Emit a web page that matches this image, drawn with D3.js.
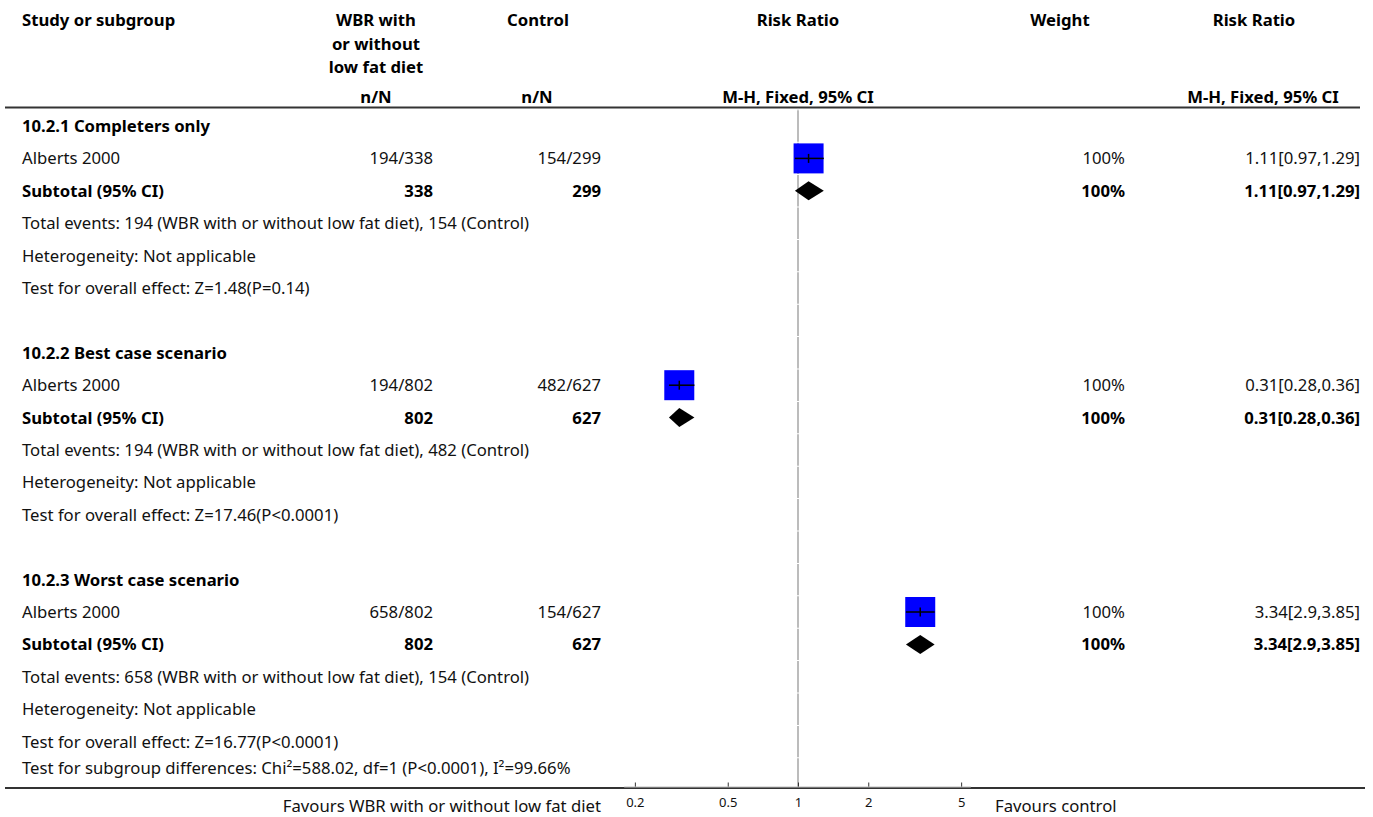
<!DOCTYPE html>
<html>
<head>
<meta charset="utf-8">
<script src="https://cdn.jsdelivr.net/npm/d3@7"></script>
<style>
  body { margin: 0; background: #fff; }
  svg text { font-family: "Noto Sans", "Open Sans", sans-serif; fill: #111; }
  .b { font-weight: bold; fill: #000; }
</style>
</head>
<body>
<svg id="chart" width="1373" height="817"></svg>
<script>
// ---- data --------------------------------------------------------------
const subgroupTitles = ["10.2.1 Completers only", "10.2.2 Best case scenario", "10.2.3 Worst case scenario"];
const studyNames     = ["Alberts 2000", "Alberts 2000", "Alberts 2000"];
const expEvents      = [194, 194, 658];
const expTotals      = [338, 802, 802];
const ctlEvents      = [154, 482, 154];
const ctlTotals      = [299, 627, 627];
const riskRatios     = [1.11, 0.31, 3.34];
const ciLower        = [0.97, 0.28, 2.9];
const ciUpper        = [1.29, 0.36, 3.85];
const weights        = [100, 100, 100];
const overallTests   = ["Z=1.48(P=0.14)", "Z=17.46(P<0.0001)", "Z=16.77(P<0.0001)"];
const heterogeneity  = ["Not applicable", "Not applicable", "Not applicable"];
const expLabel       = "WBR with or without low fat diet";
const ctlLabel       = "Control";
const subgroupDiff   = "Test for subgroup differences: Chi\u00B2=588.02, df=1 (P<0.0001), I\u00B2=99.66%";
const axisTicks      = [0.2, 0.5, 1, 2, 5];
const axisExtent     = [0.18, 5.5];

// ---- layout ------------------------------------------------------------
const FS = 16.7;
const colStudyX = 22, colExpRight = 433, colCtlRight = 601;
const colWeightRight = 1125, colRRRight = 1360;
const rowTop = 126, rowStep = 32.4;
const ruleTopY = 107.5, ruleBottomY = 788;

const svg = d3.select("#chart");

const x = d3.scaleLog().domain([0.1, 10]).range([564.6, 1031.4]);

function txt(xp, yp, s, opts = {}) {
  return svg.append("text")
    .attr("x", xp).attr("y", yp).attr("dy", "0.36em")
    .attr("text-anchor", opts.anchor || "start")
    .attr("class", opts.bold ? "b" : null)
    .style("font-size", (opts.size || FS) + "px")
    .text(s);
}
const fmt = v => String(+v.toFixed(2));
const rrText = i => fmt(riskRatios[i]) + "[" + fmt(ciLower[i]) + "," + fmt(ciUpper[i]) + "]";

// ---- header ------------------------------------------------------------
txt(colStudyX, 20, "Study or subgroup", { bold: true });
txt(376, 20, "WBR with", { bold: true, anchor: "middle" });
txt(376, 44, "or without", { bold: true, anchor: "middle" });
txt(376, 67, "low fat diet", { bold: true, anchor: "middle" });
txt(538, 20, ctlLabel, { bold: true, anchor: "middle" });
txt(x(1), 20, "Risk Ratio", { bold: true, anchor: "middle" });
txt(1060, 20, "Weight", { bold: true, anchor: "middle" });
txt(1254, 20, "Risk Ratio", { bold: true, anchor: "middle" });
txt(376, 97, "n/N", { bold: true, anchor: "middle" });
txt(537, 97, "n/N", { bold: true, anchor: "middle" });
txt(x(1), 97, "M-H, Fixed, 95% CI", { bold: true, anchor: "middle" });
txt(1263, 97, "M-H, Fixed, 95% CI", { bold: true, anchor: "middle" });

svg.append("line")
  .attr("x1", 5).attr("x2", 1360).attr("y1", ruleTopY).attr("y2", ruleTopY)
  .attr("stroke", "#333").attr("stroke-width", 2);

// ---- rows --------------------------------------------------------------
const rows = [];
subgroupTitles.forEach((title, i) => {
  rows.push({ kind: "title", i });
  rows.push({ kind: "study", i });
  rows.push({ kind: "subtotal", i });
  rows.push({ kind: "events", i });
  rows.push({ kind: "het", i });
  rows.push({ kind: "test", i });
  if (i < subgroupTitles.length - 1) rows.push({ kind: "blank", i });
});
rows.forEach((r, k) => { r.y = rowTop + k * rowStep; });
const lastRowY = rows[rows.length - 1].y;
const diffY = lastRowY + 26.5;

// line of no effect, drawn in row pieces
const refX = x(1);
const segs = [[ruleTopY + 1, rows[0].y - rowStep / 2 - 0.5]];
rows.forEach(r => segs.push([r.y - rowStep / 2 + 0.5, r.y + rowStep / 2 - 0.5]));
segs.push([lastRowY + rowStep / 2 + 0.5, ruleBottomY]);
svg.append("g").selectAll("line").data(segs).join("line")
  .attr("x1", refX).attr("x2", refX)
  .attr("y1", d => d[0]).attr("y2", d => d[1])
  .attr("stroke", "#a6a6a6").attr("stroke-width", 1.5);

const diamondHalfH = 9.5;
const squareFull = 30;

rows.forEach(r => {
  const i = r.i, y = r.y;
  switch (r.kind) {
    case "title":
      txt(colStudyX, y, subgroupTitles[i], { bold: true });
      break;
    case "study": {
      txt(colStudyX, y, studyNames[i]);
      txt(colExpRight, y, expEvents[i] + "/" + expTotals[i], { anchor: "end" });
      txt(colCtlRight, y, ctlEvents[i] + "/" + ctlTotals[i], { anchor: "end" });
      txt(colWeightRight, y, weights[i] + "%", { anchor: "end" });
      txt(colRRRight, y, rrText(i), { anchor: "end" });
      const s = squareFull * Math.sqrt(weights[i] / 100);
      const cx = x(riskRatios[i]);
      svg.append("rect")
        .attr("x", cx - s / 2).attr("y", y - s / 2)
        .attr("width", s).attr("height", s)
        .attr("fill", "#0000ff");
      svg.append("line")
        .attr("x1", x(ciLower[i])).attr("x2", x(ciUpper[i]))
        .attr("y1", y).attr("y2", y)
        .attr("stroke", "#000").attr("stroke-width", 1.5);
      svg.append("line")
        .attr("x1", cx).attr("x2", cx)
        .attr("y1", y - 4.5).attr("y2", y + 4.5)
        .attr("stroke", "#000").attr("stroke-width", 1.5);
      break;
    }
    case "subtotal": {
      txt(colStudyX, y, "Subtotal (95% CI)", { bold: true });
      txt(colExpRight, y, expTotals[i], { bold: true, anchor: "end" });
      txt(colCtlRight, y, ctlTotals[i], { bold: true, anchor: "end" });
      txt(colWeightRight, y, weights[i] + "%", { bold: true, anchor: "end" });
      txt(colRRRight, y, rrText(i), { bold: true, anchor: "end" });
      const pts = [
        [x(ciLower[i]), y], [x(riskRatios[i]), y - diamondHalfH],
        [x(ciUpper[i]), y], [x(riskRatios[i]), y + diamondHalfH]
      ];
      svg.append("path").attr("d", d3.line()(pts) + "Z").attr("fill", "#000");
      break;
    }
    case "events":
      txt(colStudyX, y, "Total events: " + expEvents[i] + " (" + expLabel + "), " + ctlEvents[i] + " (" + ctlLabel + ")");
      break;
    case "het":
      txt(colStudyX, y, "Heterogeneity: " + heterogeneity[i]);
      break;
    case "test":
      txt(colStudyX, y, "Test for overall effect: " + overallTests[i]);
      break;
  }
});

txt(colStudyX, diffY, subgroupDiff);

// ---- bottom rule and axis ----------------------------------------------
svg.append("line")
  .attr("x1", 5).attr("x2", 1365).attr("y1", ruleBottomY).attr("y2", ruleBottomY)
  .attr("stroke", "#333").attr("stroke-width", 2);

const axis = d3.axisTop(x).tickValues(axisTicks).tickFormat(d3.format("")).tickSize(5).tickSizeOuter(0);
const gAxis = svg.append("g").attr("transform", `translate(0,${ruleBottomY - 0.5})`).call(axis);
gAxis.select(".domain").remove();
gAxis.selectAll(".tick line").attr("stroke", "#333").attr("stroke-width", 1);
gAxis.selectAll(".tick text")
  .attr("y", 15).attr("dy", "0.36em")
  .style("font-size", "13px").attr("fill", "#222");
svg.append("line")
  .attr("x1", x(axisExtent[0])).attr("x2", x(axisExtent[1]))
  .attr("y1", ruleBottomY - 1).attr("y2", ruleBottomY - 1)
  .attr("stroke", "#bdbdbd").attr("stroke-width", 1);

txt(601, 806, "Favours " + expLabel, { anchor: "end" });
txt(995, 806, "Favours control");
</script>
</body>
</html>
